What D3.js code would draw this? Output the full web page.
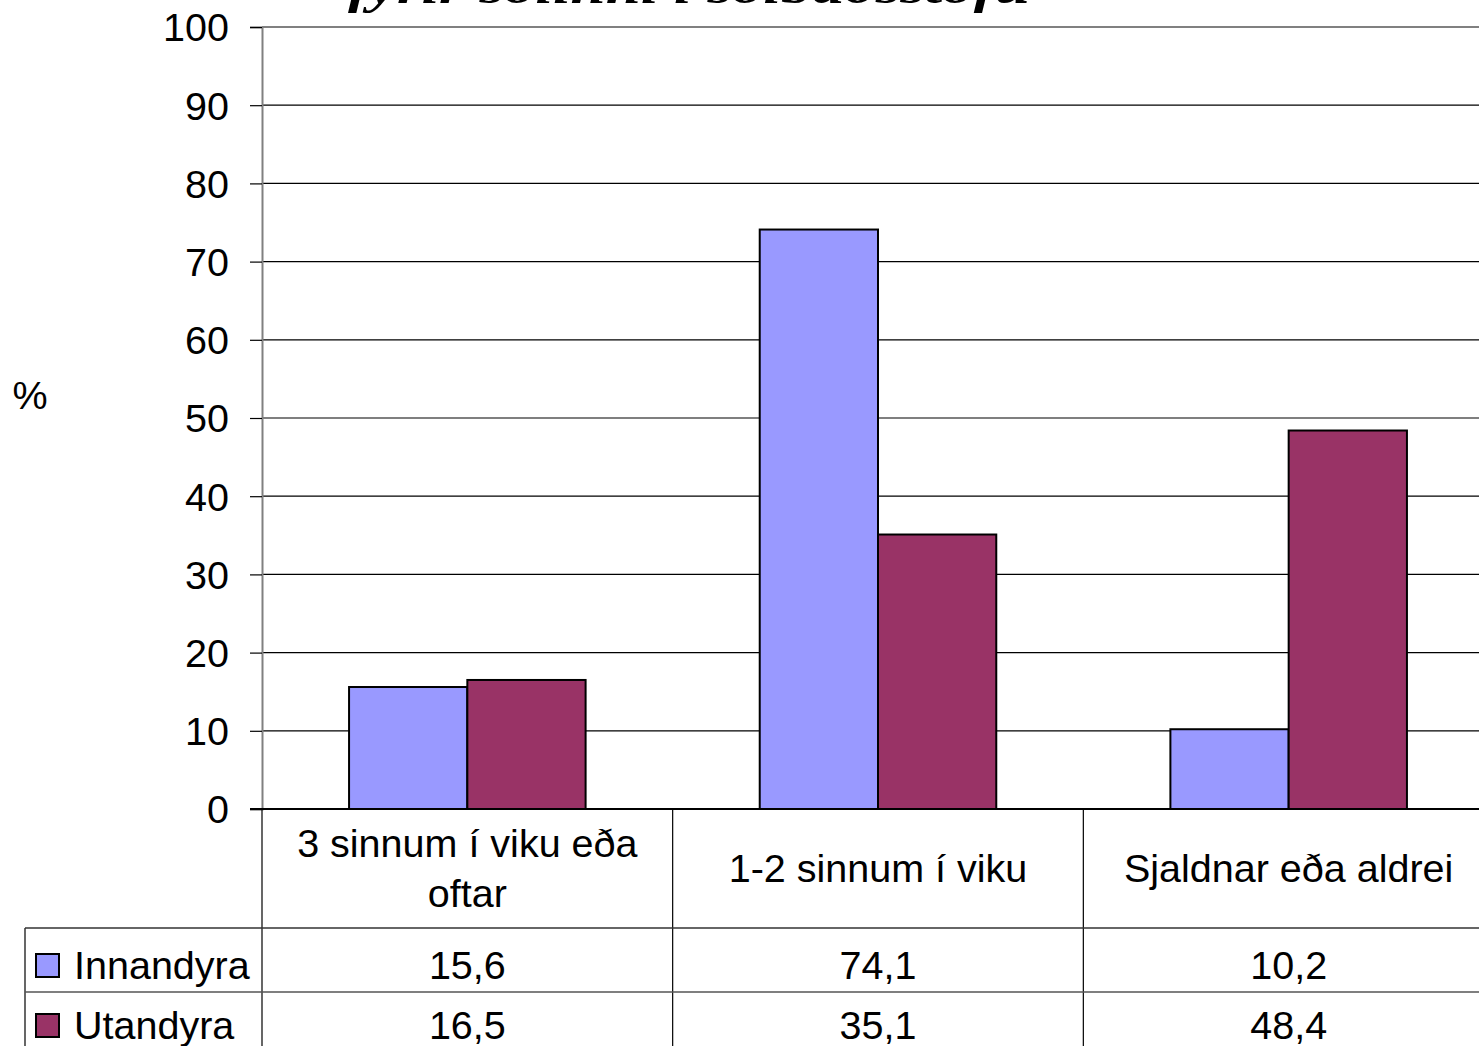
<!DOCTYPE html>
<html><head><meta charset="utf-8">
<script src="https://cdn.jsdelivr.net/npm/d3@7/dist/d3.min.js"></script>
<style>html,body{margin:0;padding:0;background:#fff;overflow:hidden}svg{display:block}</style>
</head><body>
<script>
const categories = [["3 sinnum í viku eða","oftar"],["1-2 sinnum í viku"],["Sjaldnar eða aldrei"]];
const seriesNames = ["Innandyra","Utandyra"];
const innandyra = [15.6, 74.1, 10.2];
const utandyra = [16.5, 35.1, 48.4];
const innandyraLabels = ["15,6","74,1","10,2"];
const utandyraLabels = ["16,5","35,1","48,4"];
const yTicks = [0,10,20,30,40,50,60,70,80,90,100];
const colors = ["#9999FF","#993366"];
const titleText = "fyrir sólinni í sólbaðsstofu";

(function(){
const W = 1479, H = 1046;
const svg = d3.select("body").append("svg").attr("width", W).attr("height", H);
const font = "'Liberation Sans', Arial, sans-serif";
const fs = 39.5;

const pLeft = 262, pRight = 1494, pTop = 27, pBottom = 809;
const x = d3.scaleBand().domain(d3.range(categories.length)).range([pLeft, pRight]).paddingInner(0).paddingOuter(0);
const y = d3.scaleLinear().domain([0, 100]).range([pBottom, pTop]);
const bw = x.bandwidth();
const barW = bw * 0.288;

// title (clipped at top, as in the reference)
svg.append("text").attr("x", 348).attr("y", 3)
  .attr("font-family", "'Liberation Serif', 'Times New Roman', serif")
  .attr("font-weight", "bold").attr("font-style", "italic").attr("font-size", 46)
  .attr("textLength", 682).attr("lengthAdjust", "spacingAndGlyphs")
  .text(titleText);

// gridlines
svg.append("g").selectAll("line").data(yTicks.filter(d => d > 0 && d < 100)).join("line")
  .attr("x1", pLeft).attr("x2", pRight).attr("y1", d => y(d)).attr("y2", d => y(d))
  .attr("stroke", "#000").attr("stroke-width", 1.2);
// top border
svg.append("line").attr("x1", pLeft).attr("x2", pRight).attr("y1", y(100)).attr("y2", y(100))
  .attr("stroke", "#808080").attr("stroke-width", 2);

// y axis
const yAxis = svg.append("g").attr("transform", `translate(${pLeft},0)`)
  .call(d3.axisLeft(y).tickValues(yTicks).tickSize(12).tickPadding(21).tickFormat(d3.format("d")));
yAxis.select(".domain").attr("stroke", "#808080").attr("stroke-width", 2);
yAxis.selectAll(".tick line").attr("stroke", "#000").attr("stroke-width", 1.2);
yAxis.selectAll(".tick text").attr("font-family", font).attr("font-size", fs).attr("fill", "#000").attr("dy", "0.35em");

// "%" label
svg.append("text").attr("x", 30).attr("y", 395).attr("dy", "0.35em").attr("text-anchor", "middle")
  .attr("font-family", font).attr("font-size", fs).text("%");

// bars
const series = [innandyra, utandyra];
series.forEach((vals, si) => {
  svg.append("g").selectAll("rect").data(vals).join("rect")
    .attr("x", (d, i) => x(i) + bw / 2 - barW + si * barW)
    .attr("y", d => y(d))
    .attr("width", barW)
    .attr("height", d => y(0) - y(d))
    .attr("fill", colors[si]).attr("stroke", "#000").attr("stroke-width", 2);
});

// baseline
svg.append("line").attr("x1", pLeft - 12).attr("x2", pRight).attr("y1", y(0)).attr("y2", y(0))
  .attr("stroke", "#000").attr("stroke-width", 2);

// data table
const headerBottom = 928, row2Top = 992, tableLeft = 25;
const tg = svg.append("g");
tg.selectAll("line.v").data(d3.range(categories.length + 1)).join("line").attr("class", "v")
  .attr("x1", i => i < categories.length ? x(i) : pRight).attr("x2", i => i < categories.length ? x(i) : pRight)
  .attr("y1", pBottom).attr("y2", H).attr("stroke", "#000").attr("stroke-width", 1.2);
tg.append("line").attr("x1", tableLeft).attr("x2", tableLeft).attr("y1", headerBottom).attr("y2", H)
  .attr("stroke", "#000").attr("stroke-width", 1.2);
tg.append("line").attr("x1", tableLeft).attr("x2", pRight).attr("y1", headerBottom).attr("y2", headerBottom)
  .attr("stroke", "#333").attr("stroke-width", 1.5);
tg.append("line").attr("x1", tableLeft).attr("x2", pRight).attr("y1", row2Top).attr("y2", row2Top)
  .attr("stroke", "#555").attr("stroke-width", 1.5);

// category labels
categories.forEach((lines, i) => {
  const cx = x(i) + bw / 2;
  const lh = 50;
  const startY = (pBottom + headerBottom) / 2 - (lines.length - 1) * lh / 2;
  lines.forEach((ln, k) => {
    tg.append("text").attr("x", cx).attr("y", startY + k * lh).attr("dy", "0.35em")
      .attr("text-anchor", "middle").attr("font-family", font).attr("font-size", fs).text(ln);
  });
});

// value rows
const rowLabels = [innandyraLabels, utandyraLabels];
const rowY = [965, 1025];
rowLabels.forEach((labs, r) => {
  tg.selectAll(null).data(labs).join("text")
    .attr("x", (d, i) => x(i) + bw / 2).attr("y", rowY[r]).attr("dy", "0.35em")
    .attr("text-anchor", "middle").attr("font-family", font).attr("font-size", fs).text(d => d);
  tg.append("rect").attr("x", 36).attr("y", rowY[r] - 11).attr("width", 23).attr("height", 23)
    .attr("fill", colors[r]).attr("stroke", "#000").attr("stroke-width", 2);
  tg.append("text").attr("x", 74).attr("y", rowY[r]).attr("dy", "0.35em")
    .attr("font-family", font).attr("font-size", fs).text(seriesNames[r]);
});
})();
</script>
</body></html>
